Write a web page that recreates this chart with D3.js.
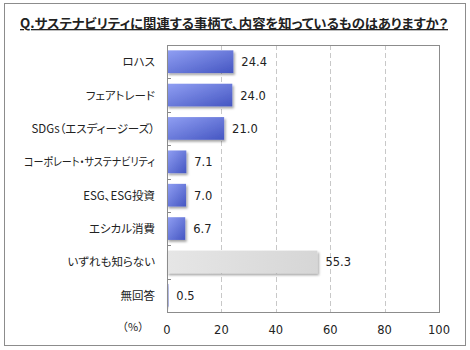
<!DOCTYPE html>
<html><head><meta charset="utf-8">
<script src="https://cdn.jsdelivr.net/npm/d3@7"></script>
<style>body{margin:0;background:#fff} text.jp{font-feature-settings:"palt"}</style>
</head><body>
<svg id="c" width="470" height="350"></svg>
<script>
const title = "Q.サステナビリティに関連する事柄で、内容を知っているものはありますか？";
const categories = ["ロハス","フェアトレード","SDGs（エスディージーズ）","コーポレート・サステナビリティ","ESG、ESG投資","エシカル消費","いずれも知らない","無回答"];
const values = [24.4,24.0,21.0,7.1,7.0,6.7,55.3,0.5];
const xTicks = [0,20,40,60,80,100];
const unitLabel = "（%）";

const font = "'Noto Sans CJK JP','DejaVu Sans',sans-serif";
const numFont = "'DejaVu Sans',sans-serif";
const svg = d3.select("#c");
const m = {l:167, r:439, t:45, b:312};
const labelRight = 155, labelMaxW = 131;

const defs = svg.append("defs");
const gb = defs.append("linearGradient").attr("id","gb").attr("x1","0").attr("y1","0").attr("x2","1").attr("y2","1");
gb.append("stop").attr("offset","0").attr("stop-color","#909ff3");
gb.append("stop").attr("offset","1").attr("stop-color","#4556c2");
const gg = defs.append("linearGradient").attr("id","gg").attr("x1","0").attr("y1","0").attr("x2","1").attr("y2","0");
gg.append("stop").attr("offset","0").attr("stop-color","#e6e6e6");
gg.append("stop").attr("offset","1").attr("stop-color","#d6d6d6");
const f = defs.append("filter").attr("id","sh").attr("x","-10%").attr("y","-20%").attr("width","130%").attr("height","160%");
f.append("feDropShadow").attr("dx",1.5).attr("dy",2).attr("stdDeviation",1.2).attr("flood-color","#000").attr("flood-opacity",0.35);

svg.append("rect").attr("x",4.5).attr("y",3.5).attr("width",461).attr("height",342).attr("fill","#fff").attr("stroke","#8c8c8c");

svg.append("text").attr("class","jp").attr("x",20).attr("y",28)
  .attr("font-family",font).attr("font-size",13).attr("font-weight","bold")
  .attr("textLength",428).attr("lengthAdjust","spacingAndGlyphs")
  .attr("text-decoration","underline").attr("fill","#222").text(title);

const x = d3.scaleLinear().domain([0,100]).range([m.l,m.r]);
const y = d3.scaleBand().domain(categories).range([m.t,m.b]).paddingInner(0.32).paddingOuter(0.16);
const yb = d3.scaleBand().domain(categories).range([m.t,m.b]);

// grid
svg.append("g").selectAll("line").data(xTicks.slice(1,-1)).join("line")
  .attr("x1",d=>Math.round(x(d))+0.5).attr("x2",d=>Math.round(x(d))+0.5)
  .attr("y1",m.t).attr("y2",m.b).attr("stroke","#c8c8c8").attr("stroke-dasharray","5,3");

// category ticks (inside)
svg.append("g").selectAll("line").data(categories.slice(1)).join("line")
  .attr("x1",m.l).attr("x2",m.l+4)
  .attr("y1",d=>Math.round(yb(d))+0.5).attr("y2",d=>Math.round(yb(d))+0.5)
  .attr("stroke","#888");

// bars
svg.append("g").selectAll("rect").data(values).join("rect")
  .attr("x",x(0)).attr("y",(d,i)=>y(categories[i])).attr("height",y.bandwidth())
  .attr("width",d=>x(d)-x(0))
  .attr("fill",(d,i)=>categories[i]==="いずれも知らない"?"url(#gg)":"url(#gb)")
  .attr("filter","url(#sh)");

// value labels
svg.append("g").selectAll("text").data(values).join("text")
  .attr("x",d=>x(d)+8).attr("y",(d,i)=>y(categories[i])+y.bandwidth()/2+4.5)
  .attr("font-family",numFont).attr("font-size",11.5).attr("fill","#222")
  .text(d=>d.toFixed(1));

// plot border
svg.append("rect").attr("x",m.l+0.5).attr("y",m.t+0.5).attr("width",m.r-m.l).attr("height",m.b-m.t)
  .attr("fill","none").attr("stroke","#8c8c8c");

// category labels
svg.append("g").selectAll("text").data(categories).join("text").attr("class","jp")
  .attr("x",labelRight).attr("y",d=>yb(d)+yb.bandwidth()/2+4.5).attr("text-anchor","end")
  .attr("font-family",font).attr("font-size",11.5).attr("fill","#222").text(d=>d)
  .each(function(){
    const w = this.getComputedTextLength();
    if (w > labelMaxW) d3.select(this).attr("textLength", labelMaxW).attr("lengthAdjust","spacingAndGlyphs");
  });

// x tick labels
svg.append("g").selectAll("text").data(xTicks).join("text")
  .attr("x",d=>x(d)).attr("y",333.5).attr("text-anchor","middle")
  .attr("font-family",numFont).attr("font-size",11.5).attr("fill","#222").text(d=>d);

svg.append("text").attr("x",133).attr("y",331).attr("text-anchor","middle")
  .attr("font-family",font).attr("font-size",11).attr("fill","#222").text(unitLabel);
</script>
</body></html>
